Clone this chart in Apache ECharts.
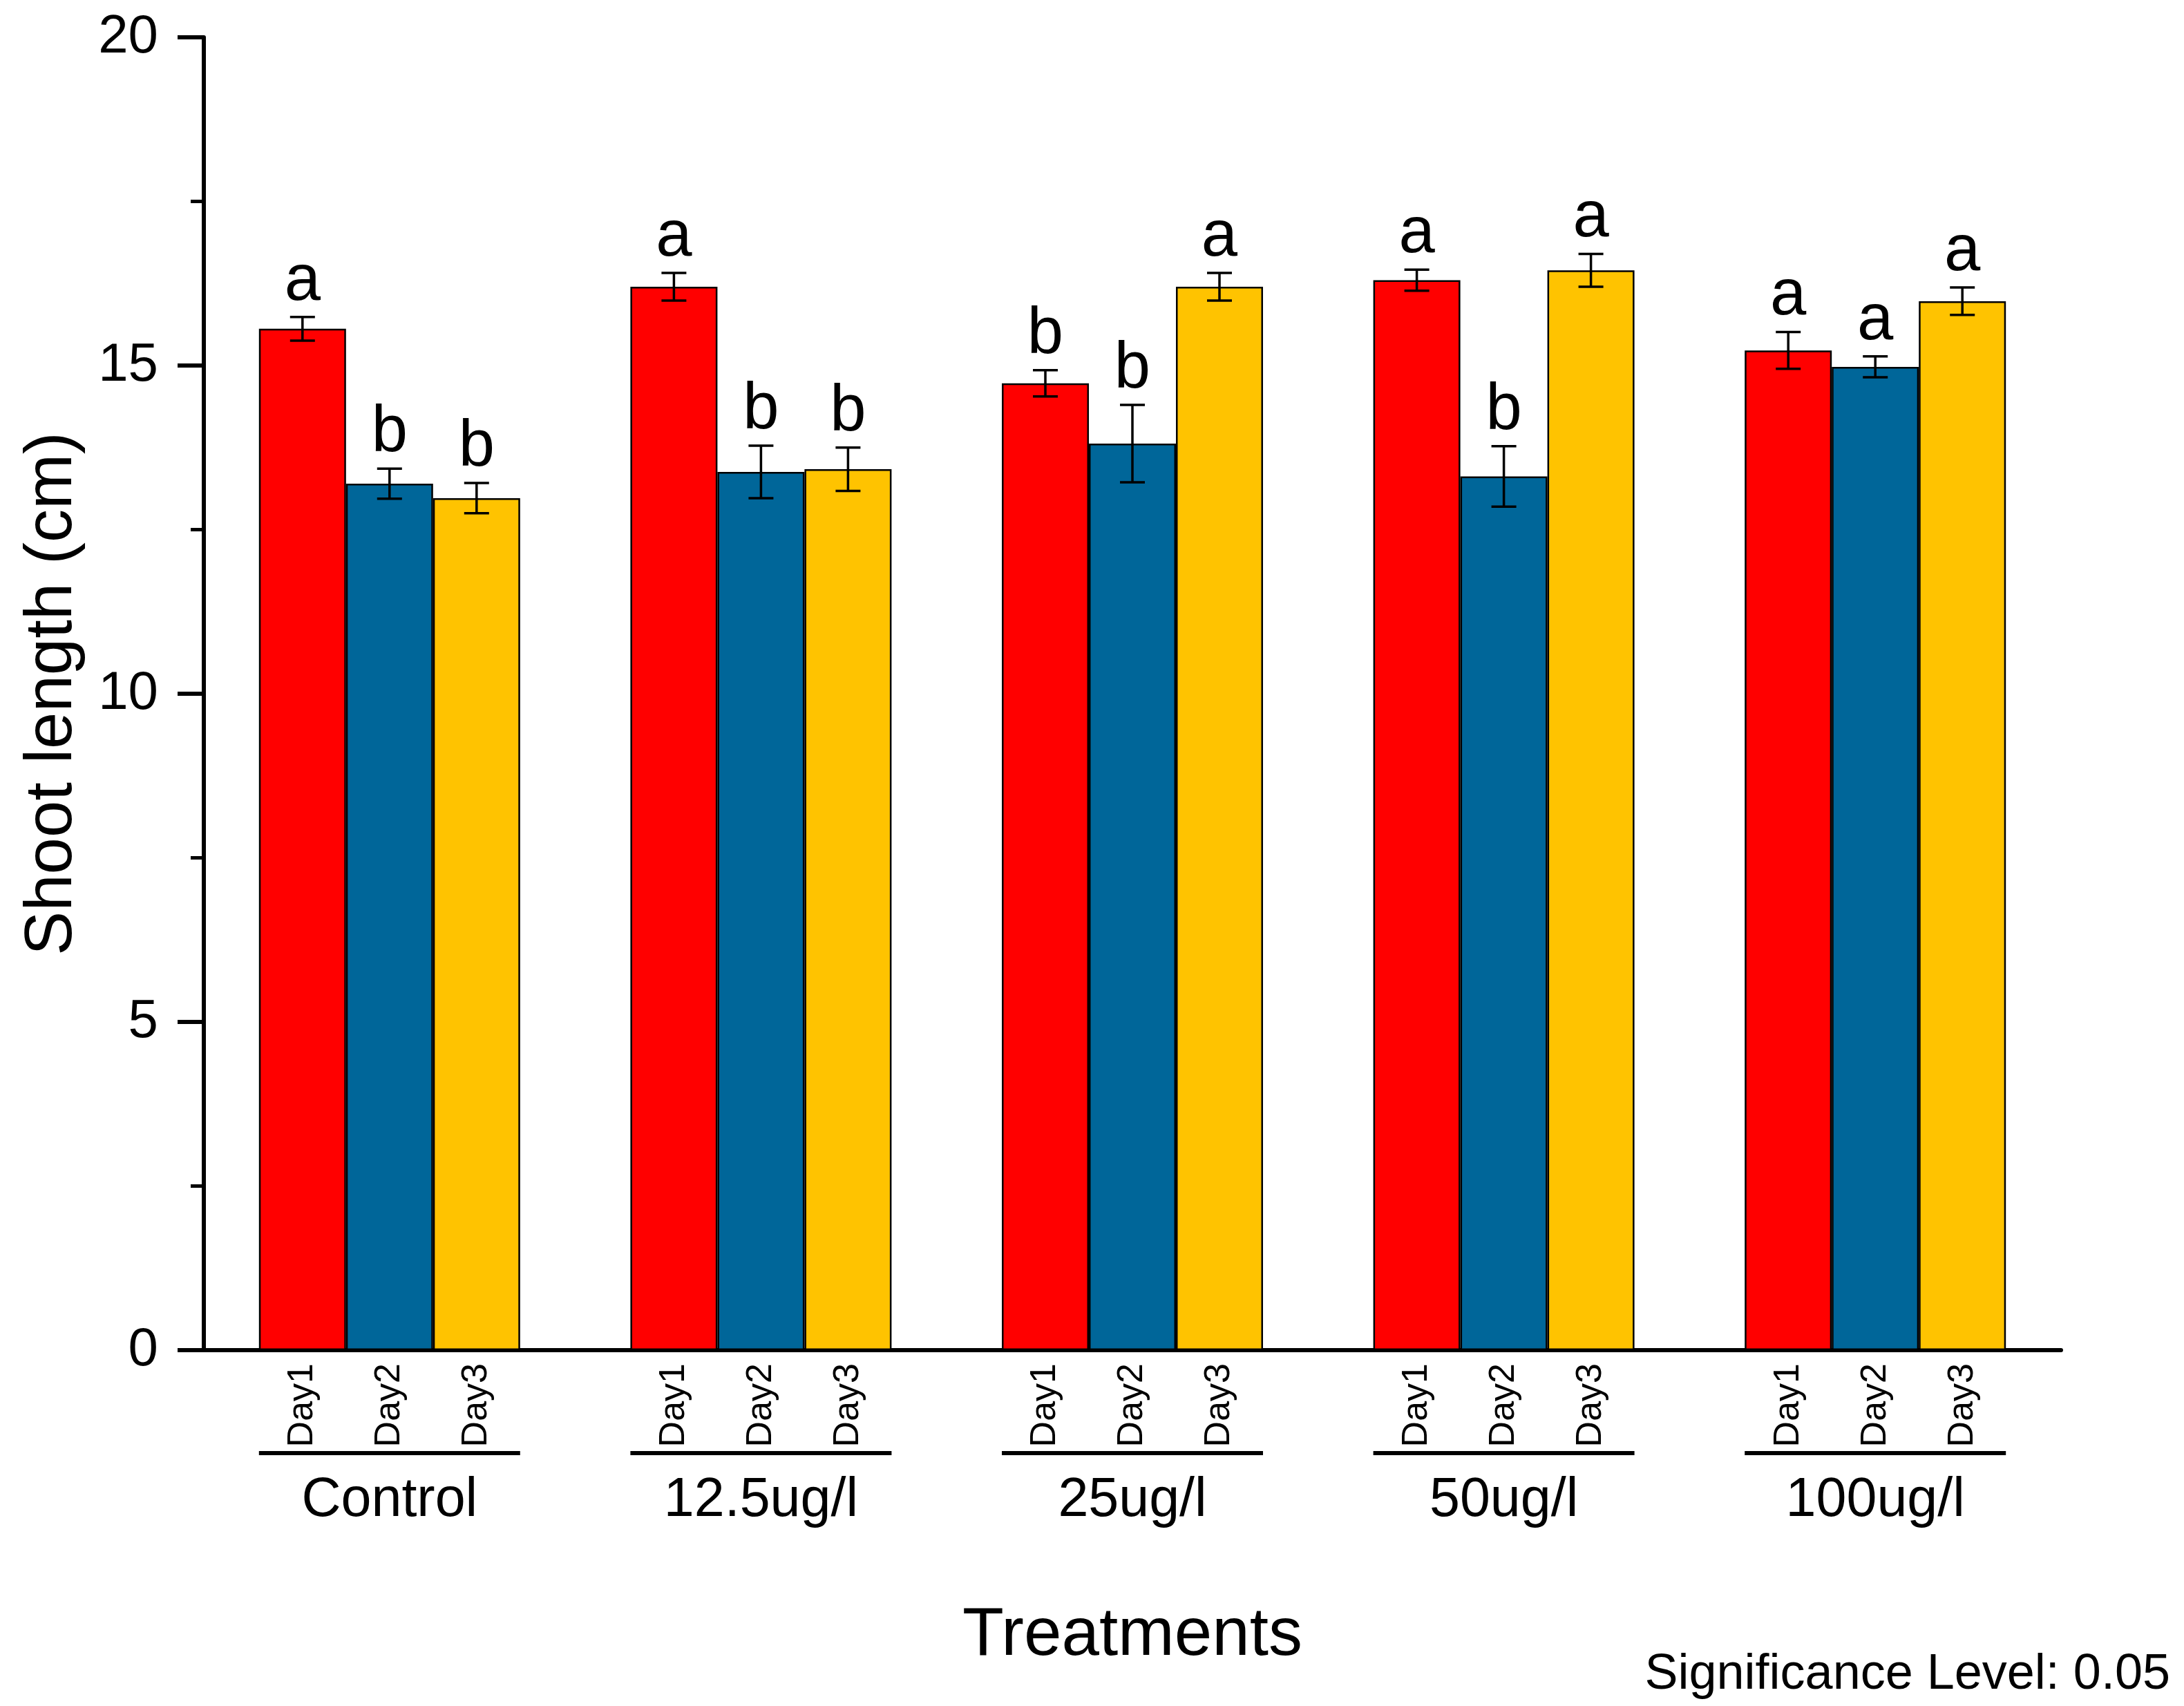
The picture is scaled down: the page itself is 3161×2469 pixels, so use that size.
<!DOCTYPE html>
<html>
<head>
<meta charset="utf-8">
<script src="https://cdn.jsdelivr.net/npm/echarts@6/dist/echarts.min.js"></script>
<style>
html,body{margin:0;padding:0;background:#fff;}
#chart{width:3161px;height:2469px;}
</style>
</head>
<body>
<div id="chart"></div>
<script>
const groups = ['Control', '12.5ug/l', '25ug/l', '50ug/l', '100ug/l'];
const days = ['Day1', 'Day2', 'Day3'];
const day1 = [15.56, 16.20, 14.73, 16.30, 15.23];
const day1Err = [0.18, 0.21, 0.20, 0.16, 0.28];
const day1Sig = ['a', 'a', 'b', 'a', 'a'];
const day2 = [13.20, 13.38, 13.81, 13.31, 14.98];
const day2Err = [0.23, 0.40, 0.59, 0.46, 0.16];
const day2Sig = ['b', 'b', 'b', 'b', 'a'];
const day3 = [12.98, 13.42, 16.20, 16.45, 15.98];
const day3Err = [0.23, 0.33, 0.21, 0.25, 0.21];
const day3Sig = ['b', 'b', 'a', 'a', 'a'];
const yTicks = [0, 5, 10, 15, 20];

const FONT = "'Liberation Sans', Arial, sans-serif";
const BAR_W = 126;
const colors = ['#FF0000', '#006699', '#FFC300'];
const means = [day1, day2, day3];
const errs = [day1Err, day2Err, day3Err];
const sigs = [day1Sig, day2Sig, day3Sig];

const chart = echarts.init(document.getElementById('chart'), null, {renderer: 'canvas'});

function makeCustom(d) {
  return {
    type: 'custom',
    name: days[d] + ' err',
    clip: false,
    z: 5,
    data: groups.map((g, i) => [i, means[d][i], errs[d][i]]),
    encode: {x: 0, y: 1},
    renderItem: function (params, api) {
      const gi = api.value(0);
      const mean = api.value(1);
      const err = api.value(2);
      const base = api.coord([gi, 0]);
      const x = base[0] + (d - 1) * BAR_W;
      const yTop = api.coord([gi, mean + err])[1];
      const yBot = api.coord([gi, mean - err])[1];
      const cap = 18;
      const ls = {stroke: '#000', lineWidth: 3.5};
      const children = [
        {type: 'line', shape: {x1: x, y1: yTop, x2: x, y2: yBot}, style: ls},
        {type: 'line', shape: {x1: x - cap, y1: yTop, x2: x + cap, y2: yTop}, style: ls},
        {type: 'line', shape: {x1: x - cap, y1: yBot, x2: x + cap, y2: yBot}, style: ls},
        {type: 'text', x: x, y: yTop - 4, style: {
          text: sigs[d][params.dataIndex], fill: '#000', font: '94px ' + FONT,
          align: 'center', verticalAlign: 'bottom'}},
        {type: 'text', x: x, y: base[1] + 19, rotation: Math.PI / 2, style: {
          text: days[d], fill: '#000', font: '52px ' + FONT,
          align: 'right', verticalAlign: 'middle'}}
      ];
      if (d === 0) {
        const half = 1.5 * BAR_W;
        children.push({type: 'line', shape: {x1: base[0] - half, y1: base[1] + 149, x2: base[0] + half, y2: base[1] + 149},
          style: {stroke: '#000', lineWidth: 6}});
      }
      return {type: 'group', children: children};
    }
  };
}

const barSeries = days.map((dname, d) => ({
  type: 'bar',
  name: dname,
  data: means[d],
  barWidth: BAR_W,
  barGap: '0%',
  itemStyle: {color: colors[d], borderColor: '#000', borderWidth: 2.5},
  z: 2
}));

chart.setOption({
  animation: false,
  backgroundColor: '#fff',
  title: {
    text: 'Significance Level: 0.05',
    right: 20, top: 2388, padding: 0,
    textStyle: {fontFamily: FONT, fontSize: 72, fontWeight: 'normal', color: '#000'}
  },
  grid: {left: 295, right: 178, top: 54, bottom: 515, containLabel: false, outerBoundsMode: 'none'},
  xAxis: {
    type: 'category',
    data: groups,
    name: 'Treatments',
    nameLocation: 'middle',
    nameGap: 365,
    nameMoveOverlap: false,
    nameTextStyle: {fontFamily: FONT, fontSize: 98, color: '#000'},
    axisLine: {show: true, lineStyle: {color: '#000', width: 6}},
    axisTick: {show: false},
    axisLabel: {fontFamily: FONT, fontSize: 79, color: '#000', margin: 178, lineHeight: 80, interval: 0},
    splitLine: {show: false}
  },
  yAxis: {
    type: 'value',
    min: yTicks[0], max: yTicks[yTicks.length - 1], interval: 5,
    name: 'Shoot length (cm)',
    nameLocation: 'middle',
    nameRotate: 90,
    nameGap: 170,
    nameMoveOverlap: false,
    nameTextStyle: {fontFamily: FONT, fontSize: 96, color: '#000'},
    axisLine: {show: true, lineStyle: {color: '#000', width: 6}},
    axisTick: {show: true, inside: false, length: 38, lineStyle: {color: '#000', width: 6}},
    minorTick: {show: true, splitNumber: 2, length: 19, lineStyle: {color: '#000', width: 5}},
    axisLabel: {fontFamily: FONT, fontSize: 78, color: '#000', margin: 66},
    splitLine: {show: false},
    minorSplitLine: {show: false}
  },
  series: barSeries.concat([makeCustom(0), makeCustom(1), makeCustom(2)])
});
</script>
</body>
</html>
